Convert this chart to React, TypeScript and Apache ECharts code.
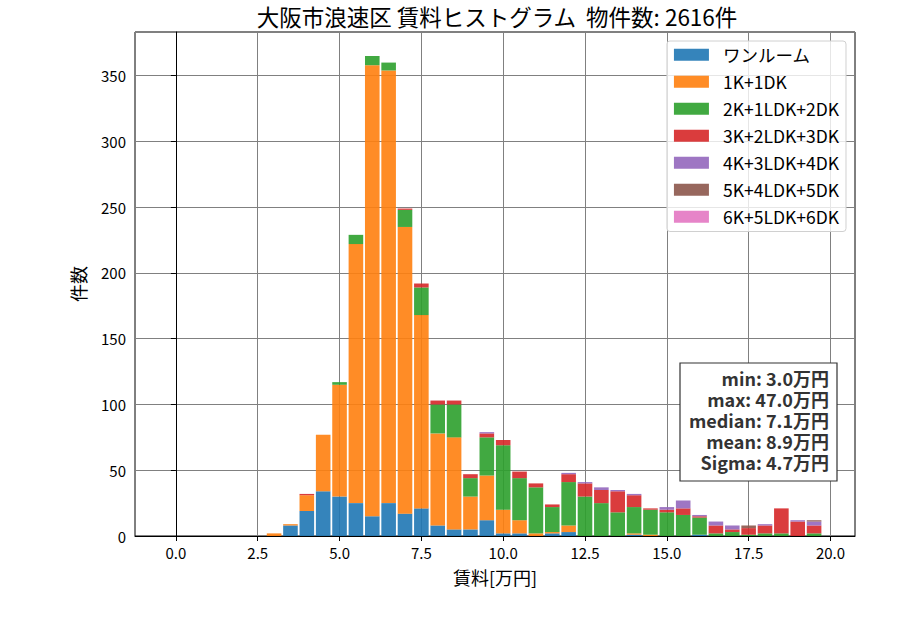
import React, { useEffect, useRef } from 'react';
import * as echarts from 'echarts';

// bin centres (万円), 0.5 wide
const bins = [
  3.0, 3.5, 4.0, 4.5, 5.0, 5.5, 6.0, 6.5, 7.0, 7.5, 8.0, 8.5, 9.0, 9.5, 10.0, 10.5, 11.0,
  11.5, 12.0, 12.5, 13.0, 13.5, 14.0, 14.5, 15.0, 15.5, 16.0, 16.5, 17.0, 17.5, 18.0, 18.5, 19.0, 19.5,
];

const seriesNames = ['ワンルーム', '1K+1DK', '2K+1LDK+2DK', '3K+2LDK+3DK', '4K+3LDK+4DK', '5K+4LDK+5DK', '6K+5LDK+6DK'];
const colors = ['#1f77b4', '#ff7f0e', '#2ca02c', '#d62728', '#9467bd', '#8c564b', '#e377c2'];

const oneRoom = [0, 8, 19, 34, 30, 25, 15, 25, 17, 21, 8, 5, 5, 12, 2, 2, 0, 2, 3, 0, 0, 0, 1, 0, 0, 0, 1, 0, 0, 0, 0, 0, 0, 0];
const k1dk = [2, 1, 12, 43, 85, 197, 343, 329, 218, 147, 70, 70, 25, 34, 18, 10, 2, 1, 5, 0, 0, 0, 1, 1, 0, 0, 0, 0, 0, 0, 0, 0, 0, 0];
const k2ldk = [0, 0, 0, 0, 2, 7, 7, 6, 13, 21, 22, 25, 14, 29, 49, 32, 35, 19, 33, 30, 25, 18, 20, 19, 18, 16, 13, 2, 3, 1, 2, 2, 0, 2];
const k3ldk = [0, 0, 1, 0, 0, 0, 0, 0, 1, 3, 3, 3, 3, 3, 4, 5, 3, 2, 6, 10, 10, 16, 9, 1, 2, 5, 1, 6, 2, 5, 6, 19, 11, 6];
const k4ldk = [0, 0, 0, 0, 0, 0, 0, 0, 0, 0, 0, 0, 0, 1, 0, 0, 0, 0, 1, 1, 2, 1, 1, 0, 2, 6, 1, 3, 3, 0, 1, 0, 1, 3];
const k5ldk = [0, 0, 0, 0, 0, 0, 0, 0, 0, 0, 0, 0, 0, 0, 0, 0, 0, 0, 0, 0, 0, 0, 0, 0, 0, 0, 0, 0, 0, 2, 0, 0, 0, 1];
const k6ldk = [0, 0, 0, 0, 0, 0, 0, 0, 0, 0, 0, 0, 0, 0, 0, 0, 0, 0, 0, 0, 0, 0, 0, 0, 0, 0, 0, 0, 0, 0, 0, 0, 0, 0];

const xTicks = [0, 2.5, 5, 7.5, 10, 12.5, 15, 17.5, 20];
const statsLines = ['min: 3.0万円', 'max: 47.0万円', 'median: 7.1万円', 'mean: 8.9万円', 'Sigma: 4.7万円'];
const titleText = '大阪市浪速区 賃料ヒストグラム  物件数: 2616件';

const FONT = "'Noto Sans CJK JP', 'Noto Sans', sans-serif";
const X_MIN = -1.25;
const X_MAX = 20.75;
const BIN_W = 0.5;

const App: React.FC = () => {
  const chartRef = useRef<HTMLDivElement>(null);

  useEffect(() => {
    document.body.style.margin = '0';
    if (!chartRef.current) return;
    const chart = echarts.init(chartRef.current, null, { renderer: 'svg' });

    // category slots covering the whole visible x range, one per 0.5 bin
    const nSlots = Math.round((X_MAX - X_MIN) / BIN_W);
    const slots = Array.from({ length: nSlots }, (_, k) => X_MIN + BIN_W / 2 + k * BIN_W);
    const slotLabels = slots.map((s) => s.toFixed(1));

    const allValues = [oneRoom, k1dk, k2ldk, k3ldk, k4ldk, k5ldk, k6ldk];
    const series = allValues.map((vals, i) => ({
      name: seriesNames[i],
      type: 'bar',
      stack: 'total',
      xAxisIndex: 0,
      barWidth: 14.6,
      itemStyle: { color: colors[i], opacity: 0.9 },
      data: slots.map((s) => {
        const j = bins.findIndex((b) => Math.abs(b - s) < 1e-6);
        return j >= 0 ? vals[j] : 0;
      }),
    }));

    chart.setOption({
      animation: false,
      grid: {
        left: 135, right: 45, top: 32, bottom: 94,
        show: true, borderColor: '#000', borderWidth: 1,
      },
      legend: {
        orient: 'vertical',
        right: 54,
        top: 41,
        itemWidth: 35,
        itemHeight: 12,
        itemGap: 9.5,
        padding: [5, 7, 6, 7],
        icon: 'rect',
        backgroundColor: 'rgba(255,255,255,0.8)',
        borderColor: '#d0d0d0',
        borderWidth: 1,
        borderRadius: 3,
        textStyle: { fontSize: 17.5, fontFamily: FONT, color: '#000', padding: [0, 0, 0, 9] },
        data: seriesNames,
      },
      xAxis: [
        {
          type: 'category',
          data: slotLabels,
          show: false,
        },
        {
          type: 'value',
          min: X_MIN,
          max: X_MAX,
          position: 'bottom',
          axisLine: { lineStyle: { color: '#000' } },
          axisTick: { show: true, length: 5, lineStyle: { color: '#000' }, customValues: xTicks },
          axisLabel: {
            customValues: xTicks,
            margin: 9,
            fontSize: 15,
            fontFamily: FONT,
            color: '#000',
            formatter: (v: number) => v.toFixed(1),
          },
          splitLine: { show: true, lineStyle: { color: '#808080', width: 1 } },
        },
      ],
      yAxis: {
        type: 'value',
        min: 0,
        max: 383.25,
        interval: 50,
        axisLine: { show: true, lineStyle: { color: '#000' } },
        axisTick: { show: true, length: 5, lineStyle: { color: '#000' } },
        axisLabel: {
          margin: 9,
          fontSize: 15,
          fontFamily: FONT,
          color: '#000',
          showMaxLabel: false,
        },
        splitLine: { show: true, lineStyle: { color: '#808080', width: 1 } },
      },
      graphic: [
        {
          type: 'text',
          x: 497, y: 16,
          style: { text: titleText, font: `22.5px ${FONT}`, fill: '#000', align: 'center', verticalAlign: 'middle' },
        },
        {
          type: 'text',
          x: 495, y: 577,
          style: { text: '賃料[万円]', font: `18px ${FONT}`, fill: '#000', align: 'center', verticalAlign: 'middle' },
        },
        {
          type: 'text',
          x: 78, y: 284,
          rotation: Math.PI / 2,
          style: { text: '件数', font: `18px ${FONT}`, fill: '#000', align: 'center', verticalAlign: 'middle' },
        },
        {
          type: 'rect',
          shape: { x: 680, y: 363, width: 157, height: 118 },
          style: { fill: '#fff', stroke: '#333', lineWidth: 1.2 },
          z: 100,
        },
        ...statsLines.map((line, i) => ({
          type: 'text',
          x: 829,
          y: 378 + i * 21,
          z: 101,
          style: {
            text: line,
            font: `bold 18px ${FONT}`,
            lineHeight: 20,
            fill: '#333',
            align: 'right',
            verticalAlign: 'middle',
          },
        })),
      ],
      series,
    } as any);

    return () => {
      chart.dispose();
    };
  }, []);

  return <div ref={chartRef} style={{ width: '900px', height: '630px' }} />;
};

export default App;
